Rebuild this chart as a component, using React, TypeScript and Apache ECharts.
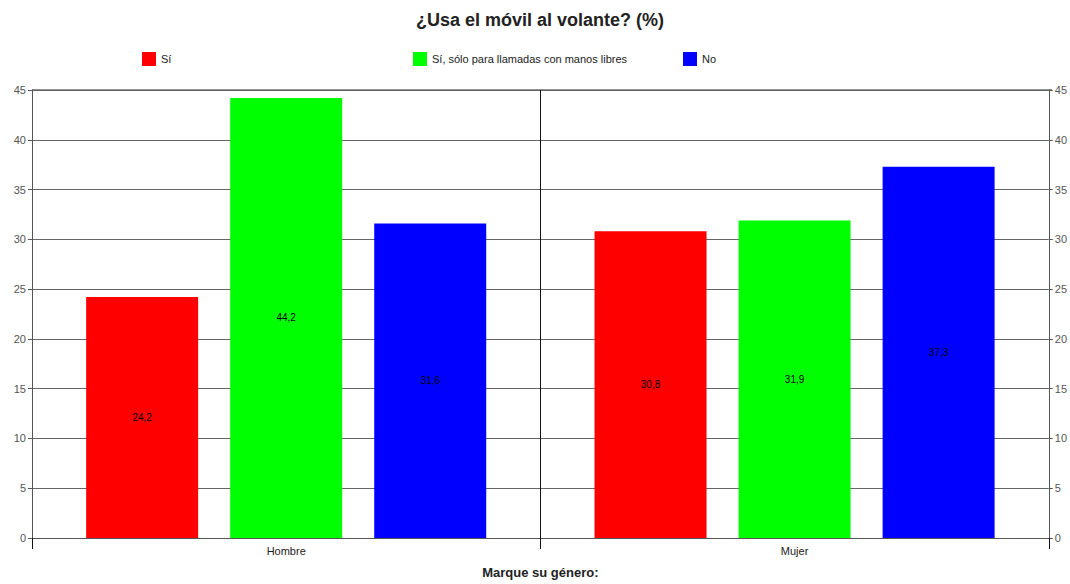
import React, { useEffect, useRef } from "react";
import * as echarts from "echarts";

const categories = ["Hombre", "Mujer"];
const seriesNames = ["Sí", "Sí, sólo para llamadas con manos libres", "No"];
const siValues = [24.2, 30.8];
const manosLibresValues = [44.2, 31.9];
const noValues = [31.6, 37.3];
const colors = ["#ff0000", "#00ff00", "#0000ff"];
const legendLefts = [137, 408, 678];

const FONT = "'Liberation Sans', Arial, sans-serif";

export default function App() {
  const ref = useRef<HTMLDivElement>(null);

  useEffect(() => {
    if (!ref.current) return;
    const chart = echarts.init(ref.current, null, { renderer: "svg" });
    const values = [siValues, manosLibresValues, noValues];

    const yAxisBase = (position: "left" | "right") => ({
      type: "value" as const,
      position,
      min: 0,
      max: 45,
      interval: 5,
      axisLine: { show: true, lineStyle: { color: "#555", width: 1 } },
      axisTick: { show: true, length: 4, lineStyle: { color: "#555" } },
      axisLabel: { color: "#555", fontSize: 11, fontFamily: FONT, margin: 6 },
      splitLine: {
        show: position === "left",
        lineStyle: { color: "#666", width: 1 },
      },
    });

    chart.setOption({
      animation: false,
      backgroundColor: "#ffffff",
      title: {
        text: "¿Usa el móvil al volante? (%)",
        left: 411,
        top: 6,
        textStyle: {
          fontFamily: FONT,
          fontSize: 18,
          fontWeight: "bold",
          color: "#222",
        },
      },
      legend: seriesNames.map((name, i) => ({
        data: [name],
        left: legendLefts[i],
        top: 47,
        icon: "rect",
        itemWidth: 14,
        itemHeight: 14,
        itemGap: 0,
        textStyle: { fontFamily: FONT, fontSize: 11, color: "#222" },
        selectedMode: false,
      })),
      grid: { left: 32, right: 18, top: 90, bottom: 42, containLabel: false },
      xAxis: {
        type: "category",
        data: categories,
        name: "Marque su género:",
        nameLocation: "middle",
        nameGap: 28,
        nameTextStyle: {
          fontFamily: FONT,
          fontSize: 13,
          fontWeight: "bold",
          color: "#222",
        },
        axisLine: { show: true, lineStyle: { color: "#555" } },
        axisTick: {
          show: true,
          alignWithLabel: false,
          length: 11,
          lineStyle: { color: "#111" },
        },
        axisLabel: { color: "#222", fontSize: 11, fontFamily: FONT, margin: 7 },
        splitLine: { show: true, lineStyle: { color: "#111", width: 1 } },
      },
      yAxis: [yAxisBase("left"), yAxisBase("right")],
      series: seriesNames.map((name, i) => ({
        name,
        type: "bar",
        data: values[i],
        yAxisIndex: 0,
        barWidth: 112,
        barGap: "28.6%",
        itemStyle: { color: colors[i] },
        label: {
          show: true,
          position: "inside",
          color: "#000",
          fontSize: 10,
          fontFamily: FONT,
          formatter: (p: any) => String(p.value).replace(".", ","),
        },
      })),
      graphic: [
        {
          type: "line",
          shape: { x1: 32, y1: 90, x2: 1052, y2: 90 },
          style: { stroke: "#222", lineWidth: 1 },
        },
      ],
    });

    return () => chart.dispose();
  }, []);

  return (
    <div
      ref={ref}
      style={{ position: "absolute", left: 0, top: 0, width: 1070, height: 584 }}
    />
  );
}
